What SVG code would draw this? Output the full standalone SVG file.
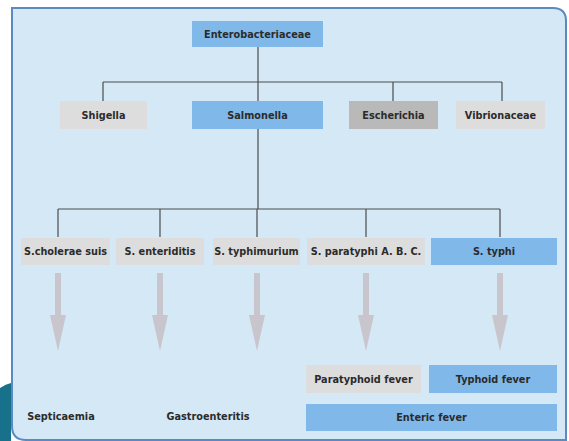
<svg xmlns="http://www.w3.org/2000/svg" width="569" height="441" viewBox="0 0 569 441">
<defs>
<style>
.t{font-family:"Liberation Sans Narrow","DejaVu Sans Condensed","Liberation Sans",Arial,sans-serif;font-weight:bold;font-size:10.8px;fill:#2b2b2b;text-anchor:middle;dominant-baseline:central}
.blue{fill:#80b8ea}
.lg{fill:#dddddd}
.dg{fill:#b9b9b9}
.ln{stroke:#4d4d4d;stroke-width:1.2;fill:none}
.arr{fill:#c8c6cc}
</style>
<g id="arrowshape">
<rect x="-3" y="273" width="6" height="44" class="arr"/>
<polygon points="-8,315 8,315 0,351" class="arr"/>
</g>
</defs>
<rect width="569" height="441" fill="#ffffff"/>
<path d="M0,388 Q6,384 11,383 L11,441 L0,441 Z" fill="#17718a"/>
<path d="M12,8 L553,8 Q566,8 566,21 L566,440 L26,440 Q12,440 12,426 Z" fill="#d5e8f5" stroke="#5a8ac0" stroke-width="2"/>
<g id="connectors">
<path class="ln" d="M258,47 V101 M103,82 H502 M103,82 V101 M393,82 V101 M502,82 V101"/>
<path class="ln" d="M258,129 V209 M58,209 H500 M58,209 V237 M160,209 V237 M257,209 V237 M366,209 V237 M500,209 V237"/>
<use href="#arrowshape" x="58"/>
<use href="#arrowshape" x="160"/>
<use href="#arrowshape" x="257"/>
<use href="#arrowshape" x="366"/>
<use href="#arrowshape" x="500"/>
</g>
<g id="enterobacteriaceae"><rect x="192" y="21" width="131" height="26" class="blue"/><text class="t" x="257.5" y="34">Enterobacteriaceae</text></g>
<g id="shigella"><rect x="60" y="101" width="87" height="28" class="lg"/><text class="t" x="103.5" y="115">Shigella</text></g>
<g id="salmonella"><rect x="192" y="101" width="131" height="28" class="blue"/><text class="t" x="257.5" y="115">Salmonella</text></g>
<g id="escherichia"><rect x="349" y="101" width="89" height="28" class="dg"/><text class="t" x="393.5" y="115">Escherichia</text></g>
<g id="vibrionaceae"><rect x="456" y="101" width="89" height="28" class="lg"/><text class="t" x="500.5" y="115">Vibrionaceae</text></g>
<g id="cholerae"><rect x="21" y="238" width="89" height="27" class="lg"/><text class="t" x="65.5" y="251.5">S.cholerae suis</text></g>
<g id="enteriditis"><rect x="116" y="238" width="88" height="27" class="lg"/><text class="t" x="160" y="251.5">S. enteriditis</text></g>
<g id="typhimurium"><rect x="213" y="238" width="87" height="27" class="lg"/><text class="t" x="256.5" y="251.5">S. typhimurium</text></g>
<g id="paratyphi"><rect x="307" y="238" width="118" height="27" class="lg"/><text class="t" x="366" y="251.5">S. paratyphi A. B. C.</text></g>
<g id="typhi"><rect x="431" y="238" width="126" height="27" class="blue"/><text class="t" x="494" y="251.5">S. typhi</text></g>
<g id="paratyphoid"><rect x="306" y="365" width="115" height="28" class="lg"/><text class="t" x="363.5" y="379">Paratyphoid fever</text></g>
<g id="typhoid"><rect x="429" y="365" width="128" height="28" class="blue"/><text class="t" x="493" y="379">Typhoid fever</text></g>
<g id="enteric"><rect x="306" y="404" width="251" height="27" class="blue"/><text class="t" x="431.5" y="417.5">Enteric fever</text></g>
<g id="septicaemia"><text class="t" x="61" y="416">Septicaemia</text></g>
<g id="gastroenteritis"><text class="t" x="208" y="416">Gastroenteritis</text></g>
</svg>
